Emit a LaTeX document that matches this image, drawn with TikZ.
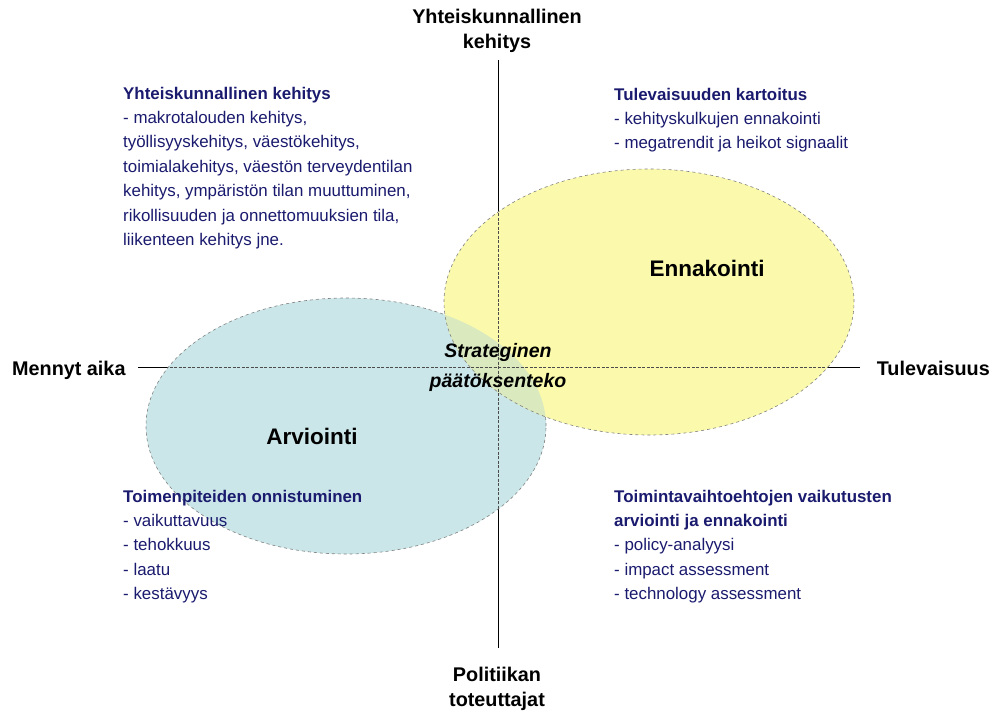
\documentclass[tikz,border=0pt]{standalone}
\usepackage{fontspec}
\setmainfont{Liberation Sans}
\definecolor{navytxt}{RGB}{26,26,110}
\definecolor{ellblue}{RGB}{202,230,232}
\definecolor{ellyellow}{RGB}{251,250,172}
\definecolor{elllens}{RGB}{218,234,190}
\begin{document}
\begin{tikzpicture}[x=1pt,y=-1pt,
  axislabel/.style={font=\fontsize{19.8}{25}\selectfont\bfseries, align=center, inner sep=0pt},
  blocktxt/.style={font=\fontsize{16.9}{24.4}\selectfont, text=navytxt, align=left, anchor=north west, inner sep=0pt},
  biglabel/.style={font=\fontsize{22.5}{26}\selectfont\bfseries, anchor=base, inner sep=0pt},
  axisline/.style={line width=0.7pt, black},
  ellborder/.style={draw=gray, dashed, line width=0.6pt}]
\useasboundingbox (0,0) rectangle (994,713);
% axes (behind)
\coordinate (hl) at (138,367);
\coordinate (hr) at (860,367);
\coordinate (vt) at (498,60);
\coordinate (vb) at (498,648);
\draw[axisline] (hl) -- (hr);
\draw[axisline] (vt) -- (vb);
% ellipses
\fill[ellblue] (346,426) ellipse [x radius=200pt, y radius=128pt];
\draw[ellborder] (346,426) ellipse [x radius=200pt, y radius=128pt];
\fill[ellyellow] (649,302) ellipse [x radius=205pt, y radius=133pt];
\begin{scope}
  \clip (346,426) ellipse [x radius=200pt, y radius=128pt];
  \fill[elllens] (649,302) ellipse [x radius=205pt, y radius=133pt];
\end{scope}
% axes through ellipses
\begin{scope}
  \clip (346,426) ellipse [x radius=200pt, y radius=128pt];
  \draw[line width=0.6pt, black!70, dash pattern=on 3pt off 1.5pt] (hl) -- (hr);
  \draw[line width=0.6pt, black!70, dash pattern=on 3pt off 1.5pt] (vt) -- (vb);
\end{scope}
\begin{scope}
  \clip (649,302) ellipse [x radius=205pt, y radius=133pt];
  \draw[line width=0.6pt, black!70, dash pattern=on 3pt off 1.5pt] (hl) -- (hr);
  \draw[line width=0.6pt, black!70, dash pattern=on 3pt off 1.5pt] (vt) -- (vb);
\end{scope}
\draw[ellborder] (649,302) ellipse [x radius=205pt, y radius=133pt];
% axis labels
\node[axislabel] (top) at (497,30.5) {Yhteiskunnallinen\\kehitys};
\node[axislabel] (bottom) at (497,688.5) {Politiikan\\toteuttajat};
\node[axislabel, anchor=base west] (left) at (12,375) {Mennyt aika};
\node[axislabel, anchor=base east] (right) at (990,375) {Tulevaisuus};
% big labels
\node[biglabel] (enn) at (707,276) {Ennakointi};
\node[biglabel] (arv) at (312,444) {Arviointi};
\node[font=\fontsize{19.5}{30}\selectfont\bfseries\itshape, align=center, inner sep=0pt] (strat) at (498,367) {Strateginen\\päätöksenteko};
% text blocks
\node[blocktxt] (tl) at (123,86.6) {\textbf{Yhteiskunnallinen kehitys}\\- makrotalouden kehitys,\\työllisyyskehitys, väestökehitys,\\toimialakehitys, väestön terveydentilan\\kehitys, ympäristön tilan muuttuminen,\\rikollisuuden ja onnettomuuksien tila,\\liikenteen kehitys jne.};
\node[blocktxt] (tr) at (614,87.6) {\textbf{Tulevaisuuden kartoitus}\\- kehityskulkujen ennakointi\\- megatrendit ja heikot signaalit};
\node[blocktxt] (bl) at (123,489.6) {\textbf{Toimenpiteiden onnistuminen}\\- vaikuttavuus\\- tehokkuus\\- laatu\\- kestävyys};
\node[blocktxt] (br) at (614,489.6) {\textbf{Toimintavaihtoehtojen vaikutusten}\\\textbf{arviointi ja ennakointi}\\- policy-analyysi\\- impact assessment\\- technology assessment};
\end{tikzpicture}
\end{document}
